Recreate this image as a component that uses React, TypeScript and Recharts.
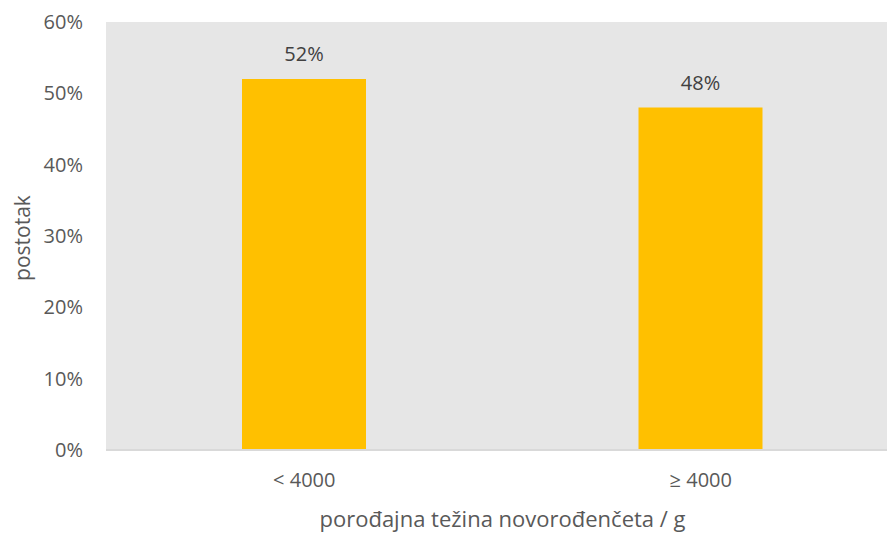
import { Bar, BarChart, CartesianGrid, LabelList, XAxis, YAxis } from "recharts";

const categories = ["< 4000", "≥ 4000"];
const shares = [52, 48];
const yTicks = [0, 10, 20, 30, 40, 50, 60];

const data = categories.map((name, i) => ({ name, share: shares[i] }));

const FONT = "'Open Sans', 'Liberation Sans', sans-serif";

function YTitle(props: any) {
  const vb = props.viewBox || {};
  const cx = 22;
  const cy = vb.y + vb.height / 2 + 2;
  return (
    <text
      x={cx}
      y={cy}
      transform={`rotate(-90, ${cx}, ${cy})`}
      textAnchor="middle"
      dominantBaseline="central"
      fill="#595959"
      fontSize={21}
      fontFamily={FONT}
    >
      postotak
    </text>
  );
}

export default function App() {
  return (
    <div style={{ position: "absolute", left: 0, top: 0, width: 887, height: 533, overflow: "hidden", background: "#fff" }}>
      <BarChart
        width={899}
        height={533}
        data={data}
        margin={{ top: 22, right: 0, bottom: 0, left: 0 }}
        barSize={124}
        style={{ fontFamily: FONT }}
      >
        <CartesianGrid fill="#e6e6e6" stroke="none" horizontal={false} vertical={false} />
        <XAxis
          dataKey="name"
          height={83}
          tickSize={0}
          tickMargin={23}
          axisLine={{ stroke: "#d9d9d9", strokeWidth: 2 }}
          tick={{ fontSize: 20, fill: "#595959" }}
          label={{ value: "porođajna težina novorođenčeta / g", position: "insideBottom", offset: 6, fontSize: 22, fill: "#595959" }}
        />
        <YAxis
          width={106}
          domain={[0, 60]}
          ticks={yTicks}
          interval={0}
          tickFormatter={(v: number) => `${v}%`}
          tickSize={0}
          tickMargin={23}
          axisLine={false}
          tick={{ fontSize: 20, fill: "#595959" }}
          label={{ content: YTitle }}
        />
        <Bar dataKey="share" fill="#ffc000" isAnimationActive={false}>
          <LabelList
            dataKey="share"
            position="top"
            offset={18}
            formatter={(v: any) => `${v}%`}
            style={{ fontSize: 20, fill: "#404040" }}
          />
        </Bar>
      </BarChart>
    </div>
  );
}
